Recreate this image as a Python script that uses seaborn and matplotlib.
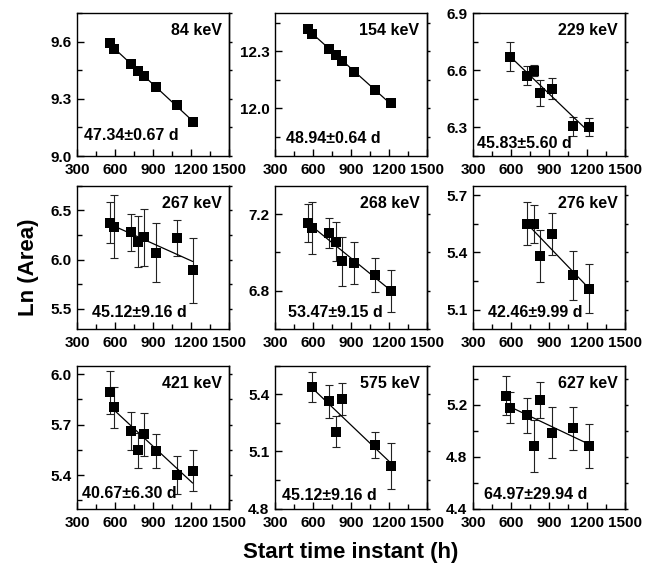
import numpy as np
import matplotlib
matplotlib.use("Agg")
import matplotlib.pyplot as plt
from matplotlib.ticker import MultipleLocator, FormatStrFormatter
import seaborn as sns

# gamma lines and fitted half-lives
energies = ["84 keV", "154 keV", "229 keV",
            "267 keV", "268 keV", "276 keV",
            "421 keV", "575 keV", "627 keV"]
half_lives = ["47.34\u00b10.67 d", "48.94\u00b10.64 d", "45.83\u00b15.60 d",
              "45.12\u00b19.16 d", "53.47\u00b19.15 d", "42.46\u00b19.99 d",
              "40.67\u00b16.30 d", "45.12\u00b19.16 d", "64.97\u00b129.94 d"]

# start time instants (h)
t_full = [560, 595, 726, 779, 829, 924, 1092, 1213]
t_229 = [595, 726, 779, 829, 924, 1092, 1213]
t_276 = [726, 779, 829, 924, 1092, 1213]
t_575 = [595, 726, 779, 829, 1092, 1213]

# ln(area) and errors
ln_84 = [9.591, 9.561, 9.481, 9.448, 9.421, 9.360, 9.266, 9.180]
ln_154 = [12.417, 12.391, 12.312, 12.282, 12.249, 12.193, 12.095, 12.026]
ln_229 = [6.670, 6.570, 6.598, 6.480, 6.504, 6.305, 6.302]
err_229 = [0.076, 0.05, 0.03, 0.07, 0.057, 0.05, 0.048]
ln_267 = [6.376, 6.336, 6.276, 6.182, 6.226, 6.072, 6.222, 5.891]
err_267 = [0.21, 0.32, 0.19, 0.26, 0.29, 0.30, 0.18, 0.33]
ln_268 = [7.153, 7.127, 7.103, 7.057, 6.953, 6.946, 6.883, 6.800]
err_268 = [0.10, 0.135, 0.08, 0.10, 0.13, 0.11, 0.09, 0.11]
ln_276 = [5.551, 5.551, 5.382, 5.495, 5.280, 5.210]
err_276 = [0.112, 0.10, 0.135, 0.11, 0.128, 0.127]
ln_421 = [5.891, 5.802, 5.661, 5.546, 5.642, 5.541, 5.400, 5.426]
err_421 = [0.127, 0.123, 0.114, 0.104, 0.128, 0.102, 0.111, 0.12]
ln_575 = [5.439, 5.363, 5.204, 5.375, 5.133, 5.023]
err_575 = [0.079, 0.088, 0.082, 0.083, 0.068, 0.121]
ln_627 = [5.267, 5.177, 5.118, 4.879, 5.233, 4.985, 5.018, 4.879]
err_627 = [0.15, 0.12, 0.132, 0.2, 0.138, 0.196, 0.165, 0.169]

panels = [
    (t_full, ln_84, None), (t_full, ln_154, None), (t_229, ln_229, err_229),
    (t_full, ln_267, err_267), (t_full, ln_268, err_268), (t_276, ln_276, err_276),
    (t_full, ln_421, err_421), (t_575, ln_575, err_575), (t_full, ln_627, err_627),
]

# axis settings
y_limits = [(9.0, 9.75), (11.75, 12.5), (6.15, 6.9),
            (5.3, 6.75), (6.6, 7.35), (5.0, 5.75),
            (5.2, 6.05), (4.8, 5.55), (4.4, 5.5)]
y_steps = [0.3, 0.3, 0.3, 0.5, 0.4, 0.3, 0.3, 0.3, 0.4]
x_ticks = [300, 600, 900, 1200, 1500]

# where the half-life label sits (axes fraction)
label_x = [0.046, 0.072, 0.026, 0.10, 0.085, 0.10, 0.033, 0.046, 0.072]
label_y = [0.11, 0.09, 0.054, 0.084, 0.084, 0.08, 0.077, 0.06, 0.07]

FIT_START = 595

sns.set_style("ticks")
plt.rcParams["font.family"] = ["Liberation Sans", "DejaVu Sans"]
plt.rcParams["font.weight"] = "bold"
for key in ("text.color", "axes.labelcolor", "xtick.color", "ytick.color",
            "axes.edgecolor"):
    plt.rcParams[key] = "black"

fig = plt.figure(figsize=(6.67, 5.74), dpi=100)

col_left = [0.1154, 0.4123, 0.7091]
row_bottom = [0.7282, 0.4274, 0.1138]
width, height = 0.2279, 0.2491

for idx, (t, y, err) in enumerate(panels):
    r, c = divmod(idx, 3)
    ax = fig.add_axes([col_left[c], row_bottom[r], width, height])
    t = np.asarray(t, dtype=float)
    y = np.asarray(y, dtype=float)

    # linear fit of ln(area) against time
    coef = np.polyfit(t, y, 1)
    x0 = max(FIT_START, t.min())
    xs = np.array([x0, t.max()])
    ax.plot(xs, np.polyval(coef, xs), color="black", lw=0.9, zorder=2)

    if err is not None:
        ax.errorbar(t, y, yerr=err, fmt="none", ecolor="#222222",
                    elinewidth=0.8, capsize=3, capthick=0.8, zorder=1)

    sns.scatterplot(x=t, y=y, marker="s", color="black", s=55,
                    linewidth=0, ax=ax, legend=False, zorder=3)

    ax.set_xlim(300, 1500)
    ax.set_ylim(*y_limits[idx])
    ax.set_xticks(x_ticks)
    ax.xaxis.set_minor_locator(MultipleLocator(150))
    ax.yaxis.set_major_locator(MultipleLocator(y_steps[idx]))
    ax.yaxis.set_minor_locator(MultipleLocator(y_steps[idx] / 2))
    ax.yaxis.set_major_formatter(FormatStrFormatter("%.1f"))
    ax.tick_params(which="both", direction="in", labelsize=11, width=1)
    ax.tick_params(which="major", length=5)
    ax.tick_params(which="minor", length=3.5)
    ax.tick_params(axis="x", pad=5)
    ax.tick_params(axis="y", pad=4)

    # right side ticks point outward
    sec = ax.secondary_yaxis("right")
    sec.yaxis.set_major_locator(MultipleLocator(y_steps[idx]))
    sec.yaxis.set_minor_locator(MultipleLocator(y_steps[idx] / 2))
    sec.tick_params(which="both", direction="out", length=2.5, labelright=False, width=1)
    sec.spines["right"].set_linewidth(1.0)

    for sp in ax.spines.values():
        sp.set_linewidth(1.0)
        sp.set_color("black")
    ax.set_xlabel("")
    ax.set_ylabel("")

    ax.text(0.95, 0.93, energies[idx], transform=ax.transAxes,
            ha="right", va="top", fontsize=11.5, fontweight="bold")
    ax.text(label_x[idx], label_y[idx], half_lives[idx], transform=ax.transAxes,
            ha="left", va="baseline", fontsize=11.5, fontweight="bold")

fig.text(0.042, 0.534, "Ln (Area)", rotation=90, ha="center", va="center",
         fontsize=16, fontweight="bold")
fig.text(0.526, 0.037, "Start time instant (h)", ha="center", va="center",
         fontsize=16, fontweight="bold")

fig.savefig("out.png", dpi=100)
